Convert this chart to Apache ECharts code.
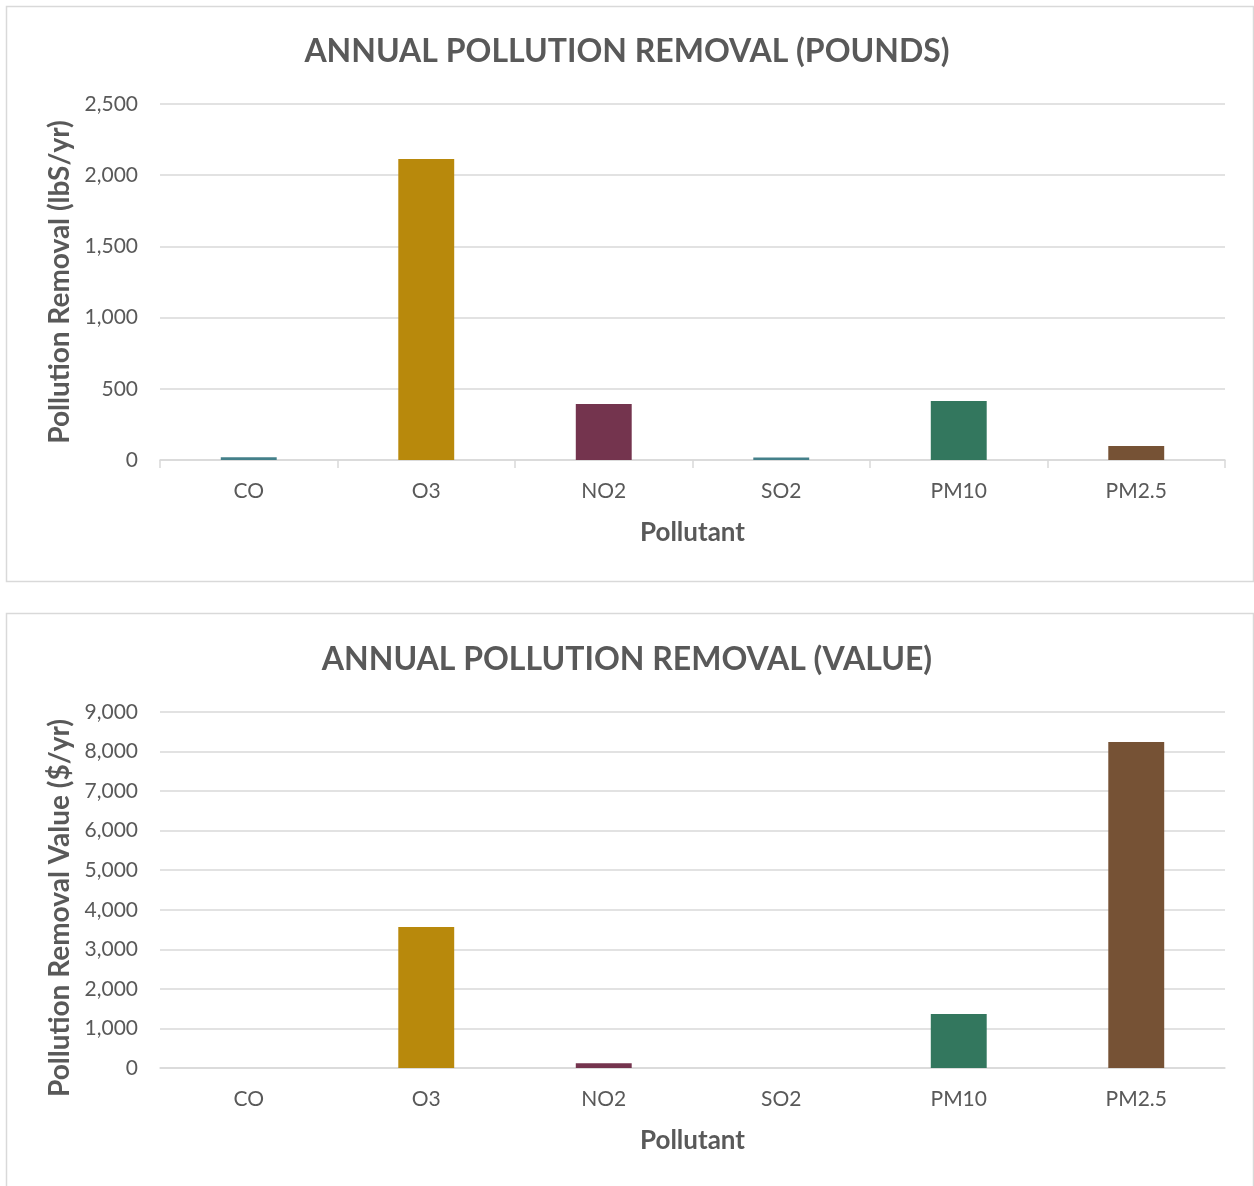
<!DOCTYPE html>
<html><head><meta charset="utf-8">
<script src="https://cdn.jsdelivr.net/npm/echarts@6/dist/echarts.min.js"></script>
<style>html,body{margin:0;padding:0;background:#fff}#c{width:1254px;height:1186px}</style>
</head><body><div id="c"></div>
<script>
const categories = ["CO","O3","NO2","SO2","PM10","PM2.5"];
const poundsValues = [20, 2114, 393, 18, 414, 98];
const dollarValues = [1, 3565, 120, 1, 1365, 8240];
const barColors = ["#44808A","#B8890C","#74344E","#44808A","#33775E","#765235"];
const title1 = "ANNUAL POLLUTION REMOVAL (POUNDS)";
const title2 = "ANNUAL POLLUTION REMOVAL (VALUE)";
const yName1 = "Pollution Removal (lbS/yr)";
const yName2 = "Pollution Removal Value ($/yr)";
const xName = "Pollutant";

const FONT = "Lato, 'Open Sans', sans-serif";
const TXT = "#595959";
const chart = echarts.init(document.getElementById('c'), null, {renderer:'canvas'});

function yAxis(idx, max, interval, name){
  return {
    gridIndex: idx, type:'value', min:0, max:max, interval:interval,
    name:name, nameLocation:'middle', nameGap:86,
    nameTextStyle:{fontFamily:FONT, fontSize:28, fontWeight:'bold', color:TXT},
    axisLabel:{fontFamily:FONT, fontSize:21, color:TXT, margin:22,
      formatter:v=>v.toLocaleString('en-US')},
    axisLine:{show:false}, axisTick:{show:false},
    splitLine:{lineStyle:{color:'#d9d9d9', width:1.5}}
  };
}
function xAxis(idx, ticks){
  return {
    gridIndex: idx, type:'category', data:categories,
    name:xName, nameLocation:'middle', nameGap:60,
    nameTextStyle:{fontFamily:FONT, fontSize:26, fontWeight:'bold', color:TXT},
    axisLabel:{fontFamily:FONT, fontSize:21, color:TXT, margin:21},
    axisLine:{lineStyle:{color:'#d9d9d9', width:1.5}},
    axisTick:{show:ticks, length:8, lineStyle:{color:'#d9d9d9', width:1.5}}
  };
}
function series(idx, vals){
  return {
    type:'bar', xAxisIndex:idx, yAxisIndex:idx, barWidth:'31.5%',
    data: vals.map((v,i)=>({value:v, itemStyle:{color:barColors[i]}})),
    animation:false
  };
}

const y2 = yAxis(1,9000,1000,'');
chart.setOption({
  animation:false,
  graphic:[
    {type:'rect', shape:{x:6.5, y:6.5, width:1247, height:575}, style:{fill:'none', stroke:'#d9d9d9', lineWidth:1.5}, z:-1},
    {type:'rect', shape:{x:6.5, y:613.5, width:1247, height:590}, style:{fill:'none', stroke:'#d9d9d9', lineWidth:1.5}, z:-1},
    {type:'text', x:60, y:908, rotation:Math.PI/2,
      style:{text:yName2, align:'center', verticalAlign:'middle', fill:TXT,
        font:"bold 28px Lato, 'Open Sans', sans-serif"}}
  ],
  title:[
    {text:title1, left:'center', top:31, textStyle:{fontFamily:FONT, fontSize:32, fontWeight:'bold', color:TXT}},
    {text:title2, left:'center', top:639, textStyle:{fontFamily:FONT, fontSize:32, fontWeight:'bold', color:TXT}}
  ],
  grid:[
    {left:160, top:104, width:1065, height:356},
    {left:160, top:712, width:1065, height:356}
  ],
  xAxis:[xAxis(0,true), xAxis(1,false)],
  yAxis:[yAxis(0,2500,500,yName1), y2],
  series:[series(0,poundsValues), series(1,dollarValues)]
});
</script></body></html>
